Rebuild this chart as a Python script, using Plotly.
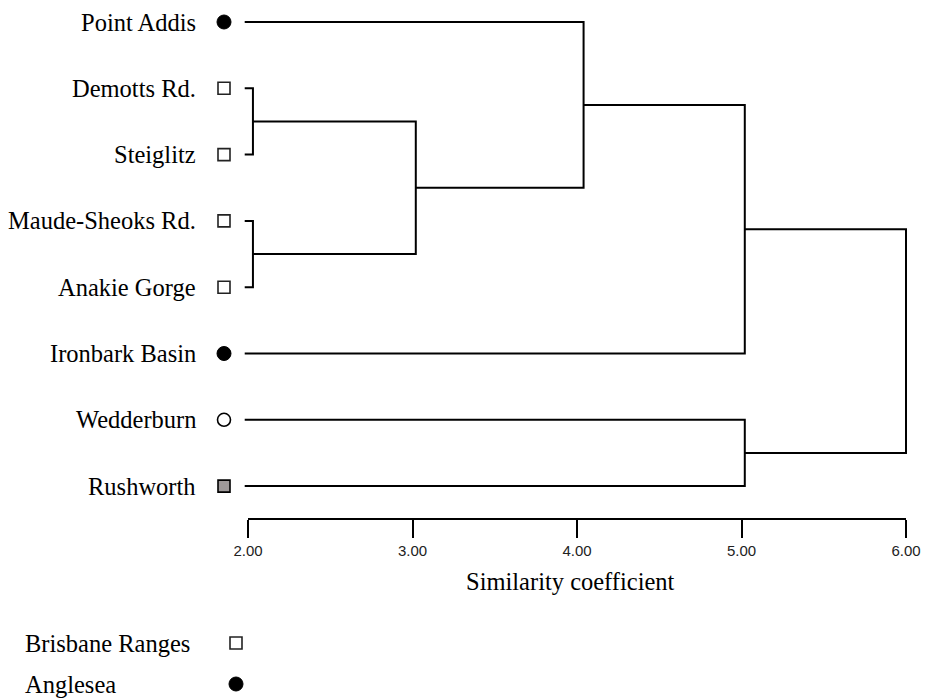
import plotly.graph_objects as go

# ---------------- data ----------------
sites = ["Point Addis", "Demotts Rd.", "Steiglitz", "Maude-Sheoks Rd.",
         "Anakie Gorge", "Ironbark Basin", "Wedderburn", "Rushworth"]
site_groups = ["Anglesea", "Brisbane Ranges", "Brisbane Ranges", "Brisbane Ranges",
               "Brisbane Ranges", "Anglesea", "Wedderburn", "Rushworth"]
# linkage: (child a, child b, similarity coefficient) ; new nodes numbered from len(sites)
merge_a = [1, 3, 8, 0, 11, 6, 12]
merge_b = [2, 4, 9, 10, 5, 7, 13]
merge_height = [2.03, 2.03, 3.02, 4.04, 5.02, 5.02, 6.00]
leaf_start = 1.98
x_tick_values = [2, 3, 4, 5, 6]
x_tick_labels = ["2.00", "3.00", "4.00", "5.00", "6.00"]
axis_title = "Similarity coefficient"
legend_groups = ["Brisbane Ranges", "Anglesea"]

# ---------------- layout constants (page pixels) ----------------
PAGE_W, PAGE_H = 925, 700
BODY = 0                               # page margin removed via post_script
W, H = PAGE_W - 2 * BODY, PAGE_H - 2 * BODY
AX_X0_PX, AX_X1_PX = 248, 906          # page pixel positions of axis min / max
AX_MIN, AX_MAX = 2.0, 6.0
ROW0_PX, ROW_STEP = 22, 66.3
AXIS_LINE_PX = 518
MARKER_X_PX = 224
LABEL_RIGHT_PX = 198
LEGEND_TEXT_PX = 23
LEGEND_MARKER_PX = 236
LEGEND_ROWS_PX = [643, 684]
TITLE_X_PX, TITLE_Y_PX = 570, 581
SERIF = "Liberation Serif, Times New Roman, serif"
FONT_SIZE = 24.5

px_per_unit = (AX_X1_PX - AX_X0_PX) / (AX_MAX - AX_MIN)


def px_to_x(px):
    return AX_MIN + (px - AX_X0_PX) / px_per_unit


def px_to_row(py):
    return (py - ROW0_PX) / ROW_STEP


def paper_x(px):
    return (px - BODY) / W


def paper_y(py):
    return (H - (py - BODY)) / H


styles = {
    "Anglesea": dict(symbol="circle", size=14, color="black", line=dict(color="black", width=1)),
    "Brisbane Ranges": dict(symbol="square", size=12, color="white", line=dict(color="#222", width=1.6)),
    "Wedderburn": dict(symbol="circle", size=13, color="white", line=dict(color="black", width=1.6)),
    "Rushworth": dict(symbol="square", size=12, color="#9e9999", line=dict(color="black", width=1.6)),
}

# ---------------- dendrogram geometry ----------------
node_x = {i: leaf_start for i in range(len(sites))}
node_y = {i: float(i) for i in range(len(sites))}
lx, ly = [], []
for k, (a, b, h) in enumerate(zip(merge_a, merge_b, merge_height)):
    lx += [node_x[a], h, h, node_x[b], None]
    ly += [node_y[a], node_y[a], node_y[b], node_y[b], None]
    nid = len(sites) + k
    node_x[nid] = h
    node_y[nid] = (node_y[a] + node_y[b]) / 2

fig = go.Figure()
fig.add_trace(go.Scatter(x=lx, y=ly, mode="lines", line=dict(color="black", width=2),
                         hoverinfo="skip", showlegend=False))

# leaf markers
for g in styles:
    idx = [i for i, s in enumerate(site_groups) if s == g]
    st = styles[g]
    fig.add_trace(go.Scatter(
        x=[px_to_x(MARKER_X_PX)] * len(idx), y=idx, mode="markers",
        marker=dict(symbol=st["symbol"], size=st["size"], color=st["color"], line=st["line"]),
        cliponaxis=False, showlegend=False, hovertext=[sites[i] for i in idx]))

# legend markers
for g, py in zip(legend_groups, LEGEND_ROWS_PX):
    st = styles[g]
    fig.add_trace(go.Scatter(
        x=[px_to_x(LEGEND_MARKER_PX)], y=[px_to_row(py)], mode="markers",
        marker=dict(symbol=st["symbol"], size=st["size"], color=st["color"], line=st["line"]),
        cliponaxis=False, showlegend=False))

annotations = []
for i, s in enumerate(sites):
    annotations.append(dict(text=s, xref="paper", x=paper_x(LABEL_RIGHT_PX), xanchor="right",
                            yref="y", y=i, yanchor="middle", showarrow=False,
                            font=dict(family=SERIF, size=FONT_SIZE, color="black")))
for g, py in zip(legend_groups, LEGEND_ROWS_PX):
    annotations.append(dict(text=g, xref="paper", x=paper_x(LEGEND_TEXT_PX), xanchor="left",
                            yref="paper", y=paper_y(py), yanchor="middle", showarrow=False,
                            font=dict(family=SERIF, size=FONT_SIZE, color="black")))
annotations.append(dict(text=axis_title, xref="paper", x=paper_x(TITLE_X_PX), xanchor="center",
                        yref="paper", y=paper_y(TITLE_Y_PX), yanchor="middle", showarrow=False,
                        font=dict(family=SERIF, size=FONT_SIZE, color="black")))

fig.update_layout(
    width=W, height=H, margin=dict(l=0, r=0, t=0, b=0, autoexpand=False),
    paper_bgcolor="white", plot_bgcolor="rgba(0,0,0,0)",
    annotations=annotations,
    xaxis=dict(domain=[0, 1], range=[px_to_x(BODY), px_to_x(BODY + W)], visible=False,
               fixedrange=True),
    yaxis=dict(domain=[0, 1], range=[px_to_row(BODY + H), px_to_row(BODY)], visible=False,
               fixedrange=True),
    xaxis2=dict(domain=[paper_x(AX_X0_PX), paper_x(AX_X1_PX)], range=[AX_MIN, AX_MAX], anchor="y2",
                showline=True, linecolor="black", linewidth=2, ticks="outside", ticklen=18,
                tickwidth=2, tickcolor="black", tickvals=x_tick_values, ticktext=x_tick_labels,
                tickfont=dict(family="Liberation Sans, Arial, sans-serif", size=15, color="#222"),
                ticklabelstandoff=0, ticklabeloverflow="allow",
                showgrid=False, zeroline=False, fixedrange=True),
    yaxis2=dict(domain=[paper_y(AXIS_LINE_PX), paper_y(AXIS_LINE_PX) + 0.05], visible=False,
                fixedrange=True),
    showlegend=False,
    hovermode=False,
)
# invisible trace to activate the axis subplot
fig.add_trace(go.Scatter(x=[AX_MIN, AX_MAX], y=[0, 0], xaxis="x2", yaxis="y2", mode="markers",
                         marker=dict(opacity=0), hoverinfo="skip", showlegend=False))

fig.write_html("out.html",
               config={"displayModeBar": False},
               post_script="document.body.style.margin='0';document.body.style.overflow='hidden';")
